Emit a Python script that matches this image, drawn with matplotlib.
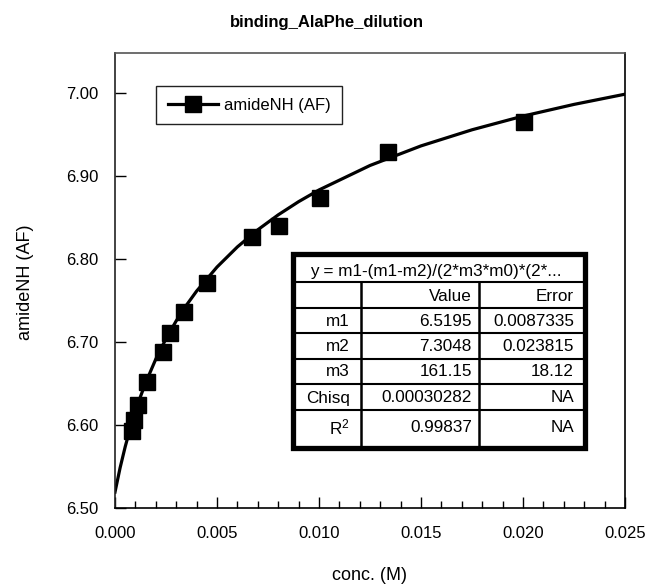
import matplotlib.pyplot as plt
from matplotlib.lines import Line2D
from matplotlib.patches import Rectangle
from matplotlib.ticker import MultipleLocator, FormatStrFormatter

plt.rcParams['font.family'] = ['Liberation Sans', 'DejaVu Sans']
plt.rcParams['mathtext.fontset'] = 'custom'
plt.rcParams['mathtext.rm'] = 'Liberation Sans'
plt.rcParams['mathtext.default'] = 'regular'

# measured points (conc in M, amide NH shift)
conc = [0.00082, 0.00093, 0.00114, 0.00158, 0.00237, 0.0027, 0.0034, 0.0045,
        0.0067, 0.00804, 0.01005, 0.0134, 0.02005]
shift = [6.593, 6.606, 6.625, 6.652, 6.688, 6.711, 6.736, 6.771,
         6.827, 6.840, 6.874, 6.929, 6.965]

# fitted curve
fit_x = [0.0, 0.00025, 0.0005, 0.00075, 0.001, 0.00125, 0.0015, 0.002, 0.0025,
         0.003, 0.0035, 0.004, 0.005, 0.006, 0.007, 0.008, 0.009, 0.010, 0.0125,
         0.015, 0.0175, 0.020, 0.0225, 0.025]
fit_y = [6.5195, 6.5488, 6.5742, 6.5967, 6.6167, 6.6347, 6.6511, 6.6798, 6.7044,
         6.7258, 6.7447, 6.7617, 6.7907, 6.8150, 6.8356, 6.8536, 6.8695, 6.8836,
         6.9131, 6.9367, 6.9561, 6.9726, 6.9867, 6.999]

# fit results table
fit_eq = 'y = m1-(m1-m2)/(2*m3*m0)*(2*...'
row_names = ['m1', 'm2', 'm3', 'Chisq', 'R$^{2}$']
values = ['6.5195', '7.3048', '161.15', '0.00030282', '0.99837']
errors = ['0.0087335', '0.023815', '18.12', 'NA', 'NA']

W, H = 647, 585
fig = plt.figure(figsize=(W / 100, H / 100), dpi=100)
ax = fig.add_axes([115 / W, 1 - 508.3 / H, 510 / W, 455.6 / H])

ax.plot(fit_x, fit_y, color='black', lw=2.3, zorder=2)
ax.plot(conc, shift, 's', color='black', ms=11, zorder=3)

ax.set_xlim(0, 0.025)
ax.set_ylim(6.5, 7.049)
ax.xaxis.set_major_locator(MultipleLocator(0.005))
ax.xaxis.set_minor_locator(MultipleLocator(0.001))
ax.yaxis.set_major_locator(MultipleLocator(0.1))
ax.xaxis.set_major_formatter(FormatStrFormatter('%.3f'))
ax.yaxis.set_major_formatter(FormatStrFormatter('%.2f'))
ax.tick_params(axis='both', which='both', direction='in', top=False, right=False,
               labelsize=12, width=1)
ax.tick_params(axis='x', which='major', length=8, pad=13)
ax.tick_params(axis='x', which='minor', length=5)
ax.tick_params(axis='y', which='major', length=8, pad=12)
for s in ['bottom', 'right']:
    ax.spines[s].set_color('black')
ax.spines['top'].set_color('#555555')
ax.spines['left'].set_color('#222222')
for s in ax.spines.values():
    s.set_linewidth(1.2)

handle = Line2D([], [], color='black', lw=2.3, marker='s', ms=11)
ax.legend([handle], ['amideNH (AF)'], loc='upper left',
          bbox_to_anchor=(156 / W, 1 - 86 / H), bbox_transform=fig.transFigure,
          fontsize=12, frameon=True, fancybox=False, framealpha=1,
          edgecolor='#222222', handlelength=3.0, handletextpad=0.35,
          borderpad=0.7, borderaxespad=0)
ax.get_legend().get_frame().set_linewidth(1.0)

fig.text(327 / W, 1 - 22 / H, 'binding_AlaPhe_dilution', ha='center', va='center',
         fontsize=12, fontweight='bold')
fig.text(370 / W, 1 - 575 / H, 'conc. (M)', ha='center', va='center', fontsize=13)
fig.text(25 / W, 1 - 282 / H, 'amideNH (AF)', ha='center', va='center',
         rotation=90, fontsize=13)

# results table drawn in pixel space
tab = fig.add_axes([0, 0, 1, 1], zorder=5)
tab.set_xlim(0, W)
tab.set_ylim(H, 0)
tab.axis('off')
tab.patch.set_alpha(0)
tab.add_patch(Rectangle((292.5, 254), 292, 194, facecolor='white',
                        edgecolor='black', lw=3.8))
row_lines = [282, 308, 333, 359, 384, 410]
for y in row_lines:
    tab.plot([295, 582], [y, y], color='black', lw=1.5)
for x in [361, 479]:
    tab.plot([x, x], [282, 446], color='black', lw=1.8)
tab.text(436, 271.5, fit_eq, ha='center', va='center', fontsize=12.3)
tab.text(472, 296.5, 'Value', ha='right', va='center', fontsize=12.3)
tab.text(574, 296.5, 'Error', ha='right', va='center', fontsize=12.3)
row_y = [321.5, 346.5, 372, 398, 427]
for name, v, e, y in zip(row_names, values, errors, row_y):
    tab.text(350, y, name, ha='right', va='center', fontsize=12.3)
    tab.text(472, y, v, ha='right', va='center', fontsize=12.3)
    tab.text(574, y, e, ha='right', va='center', fontsize=12.3)

fig.savefig('out.png', dpi=100)
